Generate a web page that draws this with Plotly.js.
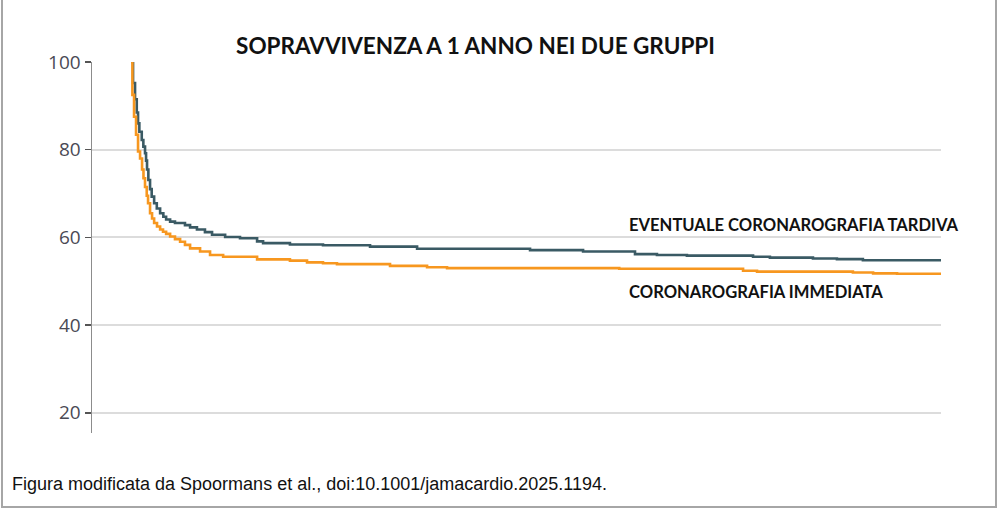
<!DOCTYPE html>
<html>
<head>
<meta charset="utf-8">
<script src="https://cdn.plot.ly/plotly-3.0.1.min.js"></script>
<style>
  html, body { margin: 0; padding: 0; background: #ffffff; }
  #chart { width: 1000px; height: 516px; }
  #frame { position: absolute; left: 1px; top: -2px; width: 996px; height: 510px;
           border-left: 2px solid #a6a6a6; border-right: 2px solid #a6a6a6; border-bottom: 2px solid #a6a6a6;
           pointer-events: none; box-sizing: border-box; }
</style>
</head>
<body>
<div id="chart"></div>
<div id="frame"></div>
<script>
// Days since randomisation (0-365) and survival (%)
const immediateDays = [0, 0.6, 1.35, 2.25, 3.15, 4.06, 4.96, 5.6, 6.3, 7.07, 7.66, 8.56, 9.46, 10.4, 11.7, 13.1, 14.4, 15.8, 17.6, 19.8, 22.1, 24.3, 26.6, 31.1, 35.6, 41.5, 56.8, 71.6, 79.3, 86.5, 92.8, 116.7, 133.4, 142.4, 220, 275.8, 282.1, 325.3, 334.4, 345.2, 365];
const immediateSurv = [100, 92.5, 87.5, 83.4, 79.6, 78, 75.5, 73.5, 71.5, 69.5, 67.8, 65.5, 64.3, 63.3, 62.5, 61.8, 61.3, 60.8, 60.2, 59.6, 59.0, 58.3, 57.5, 56.8, 56.0, 55.6, 55.0, 54.7, 54.3, 54.1, 53.9, 53.5, 53.2, 53.0, 52.85, 52.4, 52.2, 52.0, 51.8, 51.7, 51.7];

const delayedDays = [0, 0.9, 1.8, 2.57, 3.15, 3.74, 4.82, 5.54, 6.3, 6.76, 7.2, 7.8, 8.56, 9.3, 10.4, 11.6, 13.1, 14.55, 15.8, 17.6, 19.8, 24.3, 26.6, 29.7, 33.3, 36.5, 42.4, 49.1, 56.8, 59.5, 71.6, 86.5, 107.7, 128.9, 179.8, 203.7, 227.1, 237, 250.5, 280.3, 287.9, 307.3, 318.1, 329.8, 365];
const delayedSurv = [100, 95.2, 91.5, 88.5, 86, 84.1, 82.2, 80.7, 79.2, 77.5, 75.5, 73.1, 71, 69.3, 67.8, 66.6, 65.5, 64.7, 64.1, 63.6, 63.3, 62.8, 62.3, 61.8, 61.2, 60.6, 60.1, 59.8, 59.1, 58.7, 58.4, 58.2, 57.9, 57.4, 57.1, 56.8, 56.2, 56.0, 55.85, 55.6, 55.4, 55.2, 55.05, 54.8, 54.8];

const yTicks = [20, 40, 60, 80, 100];
const titleText = 'SOPRAVVIVENZA A 1 ANNO NEI DUE GRUPPI';
const delayedLabel = 'EVENTUALE CORONAROGRAFIA TARDIVA';
const immediateLabel = 'CORONAROGRAFIA IMMEDIATA';
const noteText = 'Figura modificata da Spoormans et al., doi:10.1001/jamacardio.2025.1194.';

const traces = [
  { x: delayedDays, y: delayedSurv, type: 'scatter', mode: 'lines',
    line: { shape: 'hv', color: '#3a5a64', width: 2.6 }, hoverinfo: 'skip', showlegend: false },
  { x: immediateDays, y: immediateSurv, type: 'scatter', mode: 'lines',
    line: { shape: 'hv', color: '#f7971f', width: 2.6 }, hoverinfo: 'skip', showlegend: false }
];

const layout = {
  width: 1000, height: 516,
  paper_bgcolor: '#ffffff', plot_bgcolor: '#ffffff',
  margin: { l: 92, r: 59, t: 62, b: 83 },
  showlegend: false,
  title: { text: '<b>' + titleText + '</b>', x: 0.4755, xanchor: 'center', y: 0.911, yanchor: 'middle',
           font: { family: 'Lato, "Open Sans", sans-serif', size: 22.5, color: '#111111' } },
  xaxis: { range: [-17.6, 365], visible: false, showgrid: false, zeroline: false },
  yaxis: { range: [15.4, 100], tickvals: yTicks, ticktext: yTicks.map(String),
           showgrid: true, gridcolor: '#dcdcdc', gridwidth: 2,
           showline: true, linecolor: '#8c8c8c', linewidth: 1.5,
           ticks: 'outside', ticklen: 6, tickcolor: '#555555', tickwidth: 1.5,
           zeroline: false,
           tickfont: { family: '"Open Sans", sans-serif', size: 19, color: '#4a4a55' } },
  annotations: [
    { xref: 'paper', yref: 'paper', x: (627 - 92) / 849, y: (433 - 225) / 371, xanchor: 'left', yanchor: 'middle',
      text: '<b>' + delayedLabel + '</b>', showarrow: false,
      font: { family: 'Lato, sans-serif', size: 16.6, color: '#111111' } },
    { xref: 'paper', yref: 'paper', x: (627 - 92) / 849, y: (433 - 292) / 371, xanchor: 'left', yanchor: 'middle',
      text: '<b>' + immediateLabel + '</b>', showarrow: false,
      font: { family: 'Lato, sans-serif', size: 16.6, color: '#111111' } },
    { xref: 'paper', yref: 'paper', x: (10 - 92) / 849, y: (433 - 484) / 371, xanchor: 'left', yanchor: 'middle',
      text: noteText, showarrow: false,
      font: { family: '"Liberation Sans", Arial, sans-serif', size: 18, color: '#111111' } }
  ]
};

Plotly.newPlot('chart', traces, layout, { displayModeBar: false, staticPlot: true });
</script>
</body>
</html>
